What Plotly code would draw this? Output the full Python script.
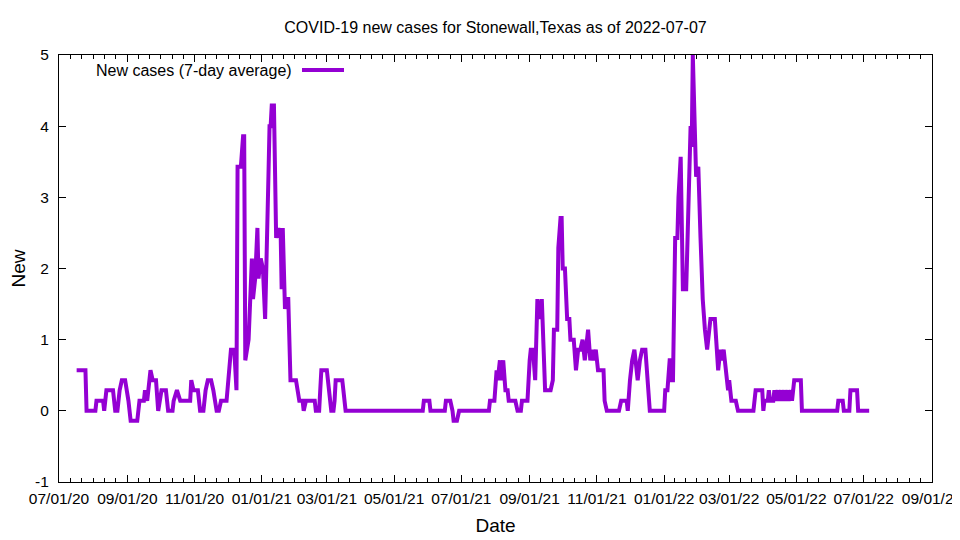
#!/usr/bin/env python3

import pandas as pd
import plotly.graph_objects as go

# days since 2020-07-01, vertices of the 7-day average curve
start_date = "2020-07-01"
day_offsets = [
    16, 24, 25, 33, 34, 40, 41, 42, 43, 49, 51, 53, 55, 57, 60, 63, 65, 71, 72, 73,
    77, 78, 80, 83, 85, 88, 90, 93, 97, 99, 103, 104, 107, 110, 119, 120, 122, 126, 128, 131,
    133, 135, 138, 140, 143, 145, 147, 152, 156, 159, 161, 162, 165, 166, 167, 168, 169, 172, 175, 176,
    178, 180, 181, 183, 185, 187, 189, 190, 191, 192, 193, 195, 197, 199, 200, 201, 202, 203, 205, 206,
    208, 210, 215, 218, 221, 222, 224, 232, 233, 236, 237, 238, 243, 245, 247, 249, 250, 251, 257, 258,
    260, 330, 331, 336, 337, 350, 351, 355, 357, 358, 361, 363, 390, 391, 395, 397, 398, 400, 401, 403,
    405, 407, 408, 414, 416, 419, 420, 425, 426, 427, 428, 430, 432, 434, 436, 438, 441, 446, 448, 449,
    452, 453, 455, 456, 457, 459, 461, 463, 464, 467, 469, 471, 473, 475, 477, 480, 482, 484, 485, 487,
    489, 494, 495, 497, 508, 510, 515, 516, 518, 520, 522, 525, 527, 529, 532, 534, 535, 536, 549, 550,
    552, 554, 555, 556, 557, 559, 561, 562, 564, 566, 569, 572, 573, 574, 575, 578, 580, 582, 584, 586,
    588, 591, 595, 598, 600, 601, 603, 606, 607, 608, 610, 614, 616, 630, 632, 638, 639, 640, 643, 644,
    645, 648, 649, 650, 652, 653, 655, 656, 658, 659, 661, 662, 664, 665, 667, 673, 674, 706, 707, 711,
    712, 717, 718, 724, 725, 735,
]
new_cases = [
    0.57, 0.57, 0, 0, 0.14, 0.14, 0, 0.14, 0.29, 0.29, 0, 0, 0.29, 0.43, 0.43, 0.14, -0.14, -0.14, 0, 0.14,
    0.14, 0.29, 0.14, 0.57, 0.43, 0.43, 0, 0.29, 0.29, 0, 0, 0.14, 0.29, 0.14, 0.14, 0.43, 0.29, 0.29, 0, 0,
    0.29, 0.43, 0.43, 0.29, 0, 0, 0.14, 0.14, 0.86, 0.86, 0.29, 3.43, 3.43, 3.71, 3.86, 3.86, 0.71, 1.0, 2.14, 1.57,
    1.86, 2.57, 1.86, 2.14, 2.0, 1.29, 3.14, 3.29, 4.0, 4.0, 4.29, 4.29, 2.43, 2.57, 2.43, 2.57, 1.71, 2.57, 1.43, 1.57,
    1.57, 0.43, 0.43, 0.14, 0.14, 0, 0.14, 0.14, 0, 0, 0.29, 0.57, 0.57, 0.29, 0, 0, 0.14, 0.43, 0.43, 0.29,
    0, 0, 0.14, 0.14, 0, 0, 0.14, 0.14, 0, -0.14, -0.14, 0, 0, 0.14, 0.14, 0.57, 0.43, 0.71, 0.43, 0.71,
    0.29, 0.29, 0.14, 0.14, 0, 0, 0.14, 0.14, 0.57, 0.71, 0.86, 0.86, 0.43, 1.57, 1.29, 1.57, 0.29, 0.29, 0.43, 1.14,
    1.14, 2.29, 2.71, 2.71, 2.0, 2.0, 1.29, 1.29, 1.0, 1.0, 0.57, 0.86, 0.86, 1.0, 0.71, 1.14, 0.71, 0.86, 0.71, 0.86,
    0.57, 0.57, 0.14, 0, 0, 0.14, 0.14, 0, 0.43, 0.71, 0.86, 0.43, 0.71, 0.86, 0.86, 0.43, 0.29, 0, 0, 0.29,
    0.29, 0.71, 0.71, 0.43, 0.43, 2.43, 2.43, 3.0, 3.57, 1.71, 1.71, 3.86, 4.0, 3.71, 5.0, 3.29, 3.43, 2.43, 1.57, 1.14,
    0.86, 1.29, 1.29, 0.57, 0.86, 0.71, 0.86, 0.43, 0.29, 0.43, 0.14, 0.14, 0, 0, 0.29, 0.29, 0, 0.14, 0.14, 0.29,
    0.14, 0.14, 0.29, 0.14, 0.29, 0.14, 0.29, 0.14, 0.29, 0.14, 0.29, 0.14, 0.29, 0.14, 0.43, 0.43, 0, 0, 0.14, 0.14,
    0, 0, 0.29, 0.29, 0, 0,
]

x_range = ["2020-07-01", "2022-09-01"]
y_ticks = [-1, 0, 1, 2, 3, 4, 5]
y_labels = ["-1", "0", "1", "2", "3", "4", "5"]
title = "COVID-19 new cases for Stonewall,Texas as of 2022-07-07"
series_name = "New cases (7-day average)"

dates = pd.Timestamp(start_date) + pd.to_timedelta(day_offsets, unit="D")

# gnuplot style minor tics: 6 per 2-month major interval
majors = pd.date_range(x_range[0], x_range[1], freq="2MS")
minor_ticks = []
for a, b in zip(majors[:-1], majors[1:]):
    step = (b - a) / 6
    minor_ticks.extend(a + step * k for k in range(1, 6))

font = "Liberation Sans, Arial, sans-serif"
color = "#9400D3"
W, H = 960, 540
body = 8  # default page margin around the plot div

fig = go.Figure()
fig.add_trace(
    go.Scatter(
        x=dates,
        y=new_cases,
        mode="lines",
        name=series_name,
        line=dict(color=color, width=4),
        showlegend=False,
    )
)

fig.update_layout(
    width=W,
    height=H,
    margin=dict(l=59 - body, r=28 + body, t=55 - body, b=58 + body),
    paper_bgcolor="white",
    plot_bgcolor="white",
    font=dict(family=font, size=16, color="black"),
    title=dict(
        text=title,
        x=0.5,
        xref="paper",
        y=1 - (27 - body) / H,
        yanchor="middle",
        font=dict(size=16),
    ),
)

axis_style = dict(
    ticks="inside",
    ticklen=7,
    tickcolor="black",
    showline=True,
    linecolor="black",
    linewidth=1,
    mirror="allticks",
    showgrid=False,
    zeroline=False,
    automargin=False,
    tickangle=0,
    tickfont=dict(size=15.5),
    ticklabeloverflow="allow",
)

fig.update_xaxes(
    range=x_range,
    tickformat="%m/%d/%y",
    dtick="M2",
    tick0=x_range[0],
    ticklabelstandoff=2,
    minor=dict(
        tickmode="array",
        tickvals=minor_ticks,
        ticks="inside",
        ticklen=4,
        tickcolor="black",
        showgrid=False,
    ),
    title=dict(text="Date", standoff=13),
    **axis_style,
)
fig.update_yaxes(
    range=[-1, 5],
    tickmode="array",
    tickvals=y_ticks,
    ticktext=y_labels,
    ticklabelstandoff=6,
    title=dict(text="New", standoff=16),
    **axis_style,
)

# gnuplot-like key: text first, then the line sample
key_y = (482 - 70) / 427
fig.add_annotation(
    text=series_name,
    xref="paper",
    yref="paper",
    x=(294 - 59) / 873,
    y=key_y,
    xanchor="right",
    yanchor="middle",
    showarrow=False,
    font=dict(size=16),
)
fig.add_shape(
    type="line",
    xref="paper",
    yref="paper",
    x0=(302 - 59) / 873,
    x1=(344 - 59) / 873,
    y0=key_y,
    y1=key_y,
    line=dict(color=color, width=4),
)

fig.write_html("out.html")
